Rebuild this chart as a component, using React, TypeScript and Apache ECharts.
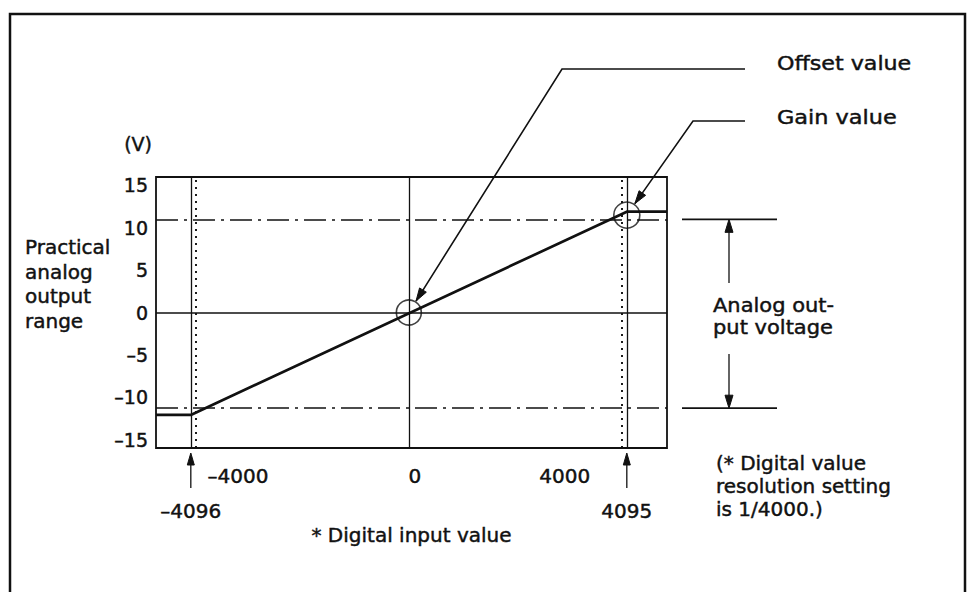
import React, { useEffect, useRef } from "react";
import * as echarts from "echarts";

// ---- data ----
const charInput = [-4750, -4096, 4095, 4850]; // digital input
const charOutput = [-12.1, -12.1, 11.9, 11.9]; // analog output (V)
const solidGridX = [-4096, 0, 4095];
const dottedGridX = [-4000, 4000];
const zeroLevel = [0];
const rangeLevels = [11.0, -11.3]; // practical output range (dash-dot)
const circleX = [0, 4095]; // offset / gain points
const circleY = [0, 11.5];
const circleSize = [25, 26];
const xTickLabels = [-4000, 0, 4000];
const xLimitLabels = [-4096, 4095];
const yTickLabels = [-15, -10, -5, 0, 5, 10, 15];
const xMin = -4750;
const xMax = 4850;
const yMin = -16;
const yMax = 16;

const FONT = "DejaVu Sans";
const INK = "#111111";
const TB = 0.45; // slight text stroke to mimic the heavier scanned print

const fmt = (v: number) => String(v).replace("-", "\u2013");

function arrowHead(tx: number, ty: number, fx: number, fy: number, len = 12, hw = 4) {
  const dx = tx - fx;
  const dy = ty - fy;
  const d = Math.hypot(dx, dy) || 1;
  const ux = dx / d;
  const uy = dy / d;
  const bx = tx - ux * len;
  const by = ty - uy * len;
  const nx = -uy;
  const ny = ux;
  return {
    type: "polygon",
    silent: true,
    shape: {
      points: [
        [tx, ty],
        [bx + nx * hw, by + ny * hw],
        [bx - nx * hw, by - ny * hw],
      ],
    },
    style: { fill: INK, stroke: INK, lineWidth: 1 },
  };
}

function line(x1: number, y1: number, x2: number, y2: number, w = 1.5) {
  return {
    type: "line",
    silent: true,
    shape: { x1, y1, x2, y2 },
    style: { stroke: INK, lineWidth: w },
  };
}

function text(t: string, x: number, y: number, opts: any = {}) {
  return {
    type: "text",
    silent: true,
    x,
    y,
    scaleX: opts.scaleX || 1,
    style: {
      text: t,
      fill: INK,
      stroke: INK,
      lineWidth: TB,
      fontSize: opts.fontSize || 20,
      fontFamily: FONT,
      lineHeight: opts.lineHeight || 22,
      align: opts.align || "left",
      verticalAlign: opts.verticalAlign || "top",
    },
  };
}

export default function App() {
  const ref = useRef<HTMLDivElement>(null);

  useEffect(() => {
    if (!ref.current) return;
    const chart = echarts.init(ref.current, undefined, { renderer: "svg" });

    const markData: any[] = [];
    solidGridX.forEach((x) =>
      markData.push({ xAxis: x, lineStyle: { color: INK, width: 1.3, type: "solid" } })
    );
    dottedGridX.forEach((x) =>
      markData.push({ xAxis: x, lineStyle: { color: INK, width: 1.9, type: [1.9, 5.1] } })
    );
    zeroLevel.forEach((y) =>
      markData.push({ yAxis: y, lineStyle: { color: INK, width: 1.7, type: "solid" } })
    );
    rangeLevels.forEach((y) =>
      markData.push({ yAxis: y, lineStyle: { color: INK, width: 1.7, type: [22, 6, 3, 6] } })
    );

    const lbl = { fontSize: 20, fontFamily: FONT, color: INK, textBorderColor: INK, textBorderWidth: TB };
    const xLabelRich = {
      a: { ...lbl, padding: [0, 0, 0, 84] },
      b: { ...lbl, padding: [0, 0, 0, 12] },
      c: { ...lbl, padding: [0, 114, 0, 0] },
    };

    chart.setOption({
      animation: false,
      backgroundColor: "#ffffff",
      textStyle: { fontFamily: FONT, color: INK },
      grid: {
        left: 156,
        top: 177,
        right: 969 - 667,
        bottom: 592 - 448,
        show: true,
        borderColor: INK,
        borderWidth: 1.8,
        backgroundColor: "transparent",
      },
      xAxis: [
        {
          type: "value",
          min: xMin,
          max: xMax,
          position: "bottom",
          axisLine: { show: false, onZero: false },
          axisTick: { show: false },
          splitLine: { show: false },
          axisLabel: {
            customValues: xTickLabels,
            margin: 18,
            ...lbl,
            formatter: (v: number) => {
              const s = fmt(v);
              if (v < 0) return "{a|" + s + "}";
              if (v === 0) return "{b|" + s + "}";
              return "{c|" + s + "}";
            },
            rich: xLabelRich,
          },
          name: "* Digital input value",
          nameLocation: "middle",
          nameGap: 77,
          nameTextStyle: { ...lbl },
        },
        {
          type: "value",
          min: xMin,
          max: xMax,
          position: "bottom",
          offset: 0,
          axisLine: { show: false, onZero: false },
          axisTick: { show: false },
          splitLine: { show: false },
          axisLabel: {
            customValues: xLimitLabels,
            margin: 53,
            ...lbl,
            formatter: (v: number) => fmt(v),
          },
        },
      ],
      yAxis: {
        type: "value",
        min: yMin,
        max: yMax,
        position: "left",
        axisLine: { show: false, onZero: false },
        axisTick: { show: false },
        splitLine: { show: false },
        axisLabel: {
          customValues: yTickLabels,
          margin: 8,
          ...lbl,
          fontSize: 19,
          padding: [0, 0, 4, 0],
          formatter: (v: number) => fmt(v),
        },
        name: "(V)",
        nameLocation: "end",
        nameGap: 24,
        nameTextStyle: {
          ...lbl,
          fontSize: 19,
          align: "right",
          padding: [0, 4, 0, 0],
        },
      },
      series: [
        {
          type: "line",
          xAxisIndex: 0,
          yAxisIndex: 0,
          data: charInput.map((x, i) => [x, charOutput[i]]),
          symbol: "none",
          lineStyle: { color: INK, width: 2.7 },
          z: 5,
          markLine: {
            silent: true,
            symbol: "none",
            label: { show: false },
            data: markData,
            z: 2,
          },
        },
        {
          type: "scatter",
          xAxisIndex: 0,
          yAxisIndex: 0,
          data: circleX.map((x, i) => ({
            value: [x, circleY[i]],
            symbolSize: circleSize[i],
          })),
          symbol: "circle",
          itemStyle: { color: "rgba(0,0,0,0)", borderColor: INK, borderWidth: 1.6 },
          z: 6,
        },
      ],
    });

    const px = (x: number, y: number) =>
      chart.convertToPixel({ seriesIndex: 0 }, [x, y]) as number[];

    const g: any[] = [];
    // outer frame
    g.push({
      type: "polyline",
      silent: true,
      shape: { points: [[10, 592], [10, 14], [965, 14], [965, 592]] },
      style: { stroke: INK, lineWidth: 2.5, fill: null },
    });

    // y title
    g.push(text("Practical\nanalog\noutput\nrange", 25, 235, { lineHeight: 24.5 }));

    // Offset value leader
    const off = px(circleX[0], circleY[0]);
    const offStart = [562, 69];
    {
      const dx = offStart[0] - off[0];
      const dy = offStart[1] - off[1];
      const d = Math.hypot(dx, dy);
      const r = circleSize[0] / 2 + 1;
      const tip = [off[0] + (dx / d) * r, off[1] + (dy / d) * r];
      g.push({
        type: "polyline",
        silent: true,
        shape: { points: [[745, 69], offStart, tip] },
        style: { stroke: INK, lineWidth: 1.6, fill: null },
      });
      g.push(arrowHead(tip[0], tip[1], offStart[0], offStart[1], 13, 4));
    }
    g.push(text("Offset value", 777, 63, { verticalAlign: "middle", scaleX: 1.11 }));

    // Gain value leader
    const gain = px(circleX[1], circleY[1]);
    const gainStart = [693, 121];
    {
      const dx = gainStart[0] - gain[0];
      const dy = gainStart[1] - gain[1];
      const d = Math.hypot(dx, dy);
      const r = circleSize[1] / 2 + 1;
      const tip = [gain[0] + (dx / d) * r, gain[1] + (dy / d) * r];
      g.push({
        type: "polyline",
        silent: true,
        shape: { points: [[745, 121], gainStart, tip] },
        style: { stroke: INK, lineWidth: 1.6, fill: null },
      });
      g.push(arrowHead(tip[0], tip[1], gainStart[0], gainStart[1], 13, 4));
    }
    g.push(text("Gain value", 777, 117, { verticalAlign: "middle", scaleX: 1.12 }));

    // analog output voltage range extension
    const topY = px(0, rangeLevels[0])[1];
    const botY = px(0, rangeLevels[1])[1];
    g.push(line(682, topY, 777, topY, 1.7));
    g.push(line(682, botY, 777, botY, 1.7));
    const ax = 729;
    g.push(line(ax, topY + 8, ax, 283, 1.3));
    g.push(arrowHead(ax, topY, ax, 283, 13, 4));
    g.push(line(ax, 354, ax, botY - 8, 1.3));
    g.push(arrowHead(ax, botY, ax, 354, 13, 4));
    g.push(text("Analog out-\nput voltage", 713, 294, { lineHeight: 22, scaleX: 1.05 }));

    // bottom arrows pointing at limits
    const bottom = px(0, yMin)[1];
    xLimitLabels.forEach((v) => {
      const x = px(v, 0)[0];
      g.push(line(x, bottom + 12, x, bottom + 40, 1.3));
      g.push(arrowHead(x, bottom + 5, x, bottom + 40, 12, 3.5));
    });

    // note
    g.push(
      text("(* Digital value\nresolution setting\nis 1/4000.)", 716, 451, { lineHeight: 23 })
    );

    chart.setOption({ graphic: { elements: g } });

    return () => chart.dispose();
  }, []);

  return (
    <div
      ref={ref}
      style={{ position: "fixed", left: 0, top: 0, width: 969, height: 592, background: "#fff" }}
    />
  );
}
